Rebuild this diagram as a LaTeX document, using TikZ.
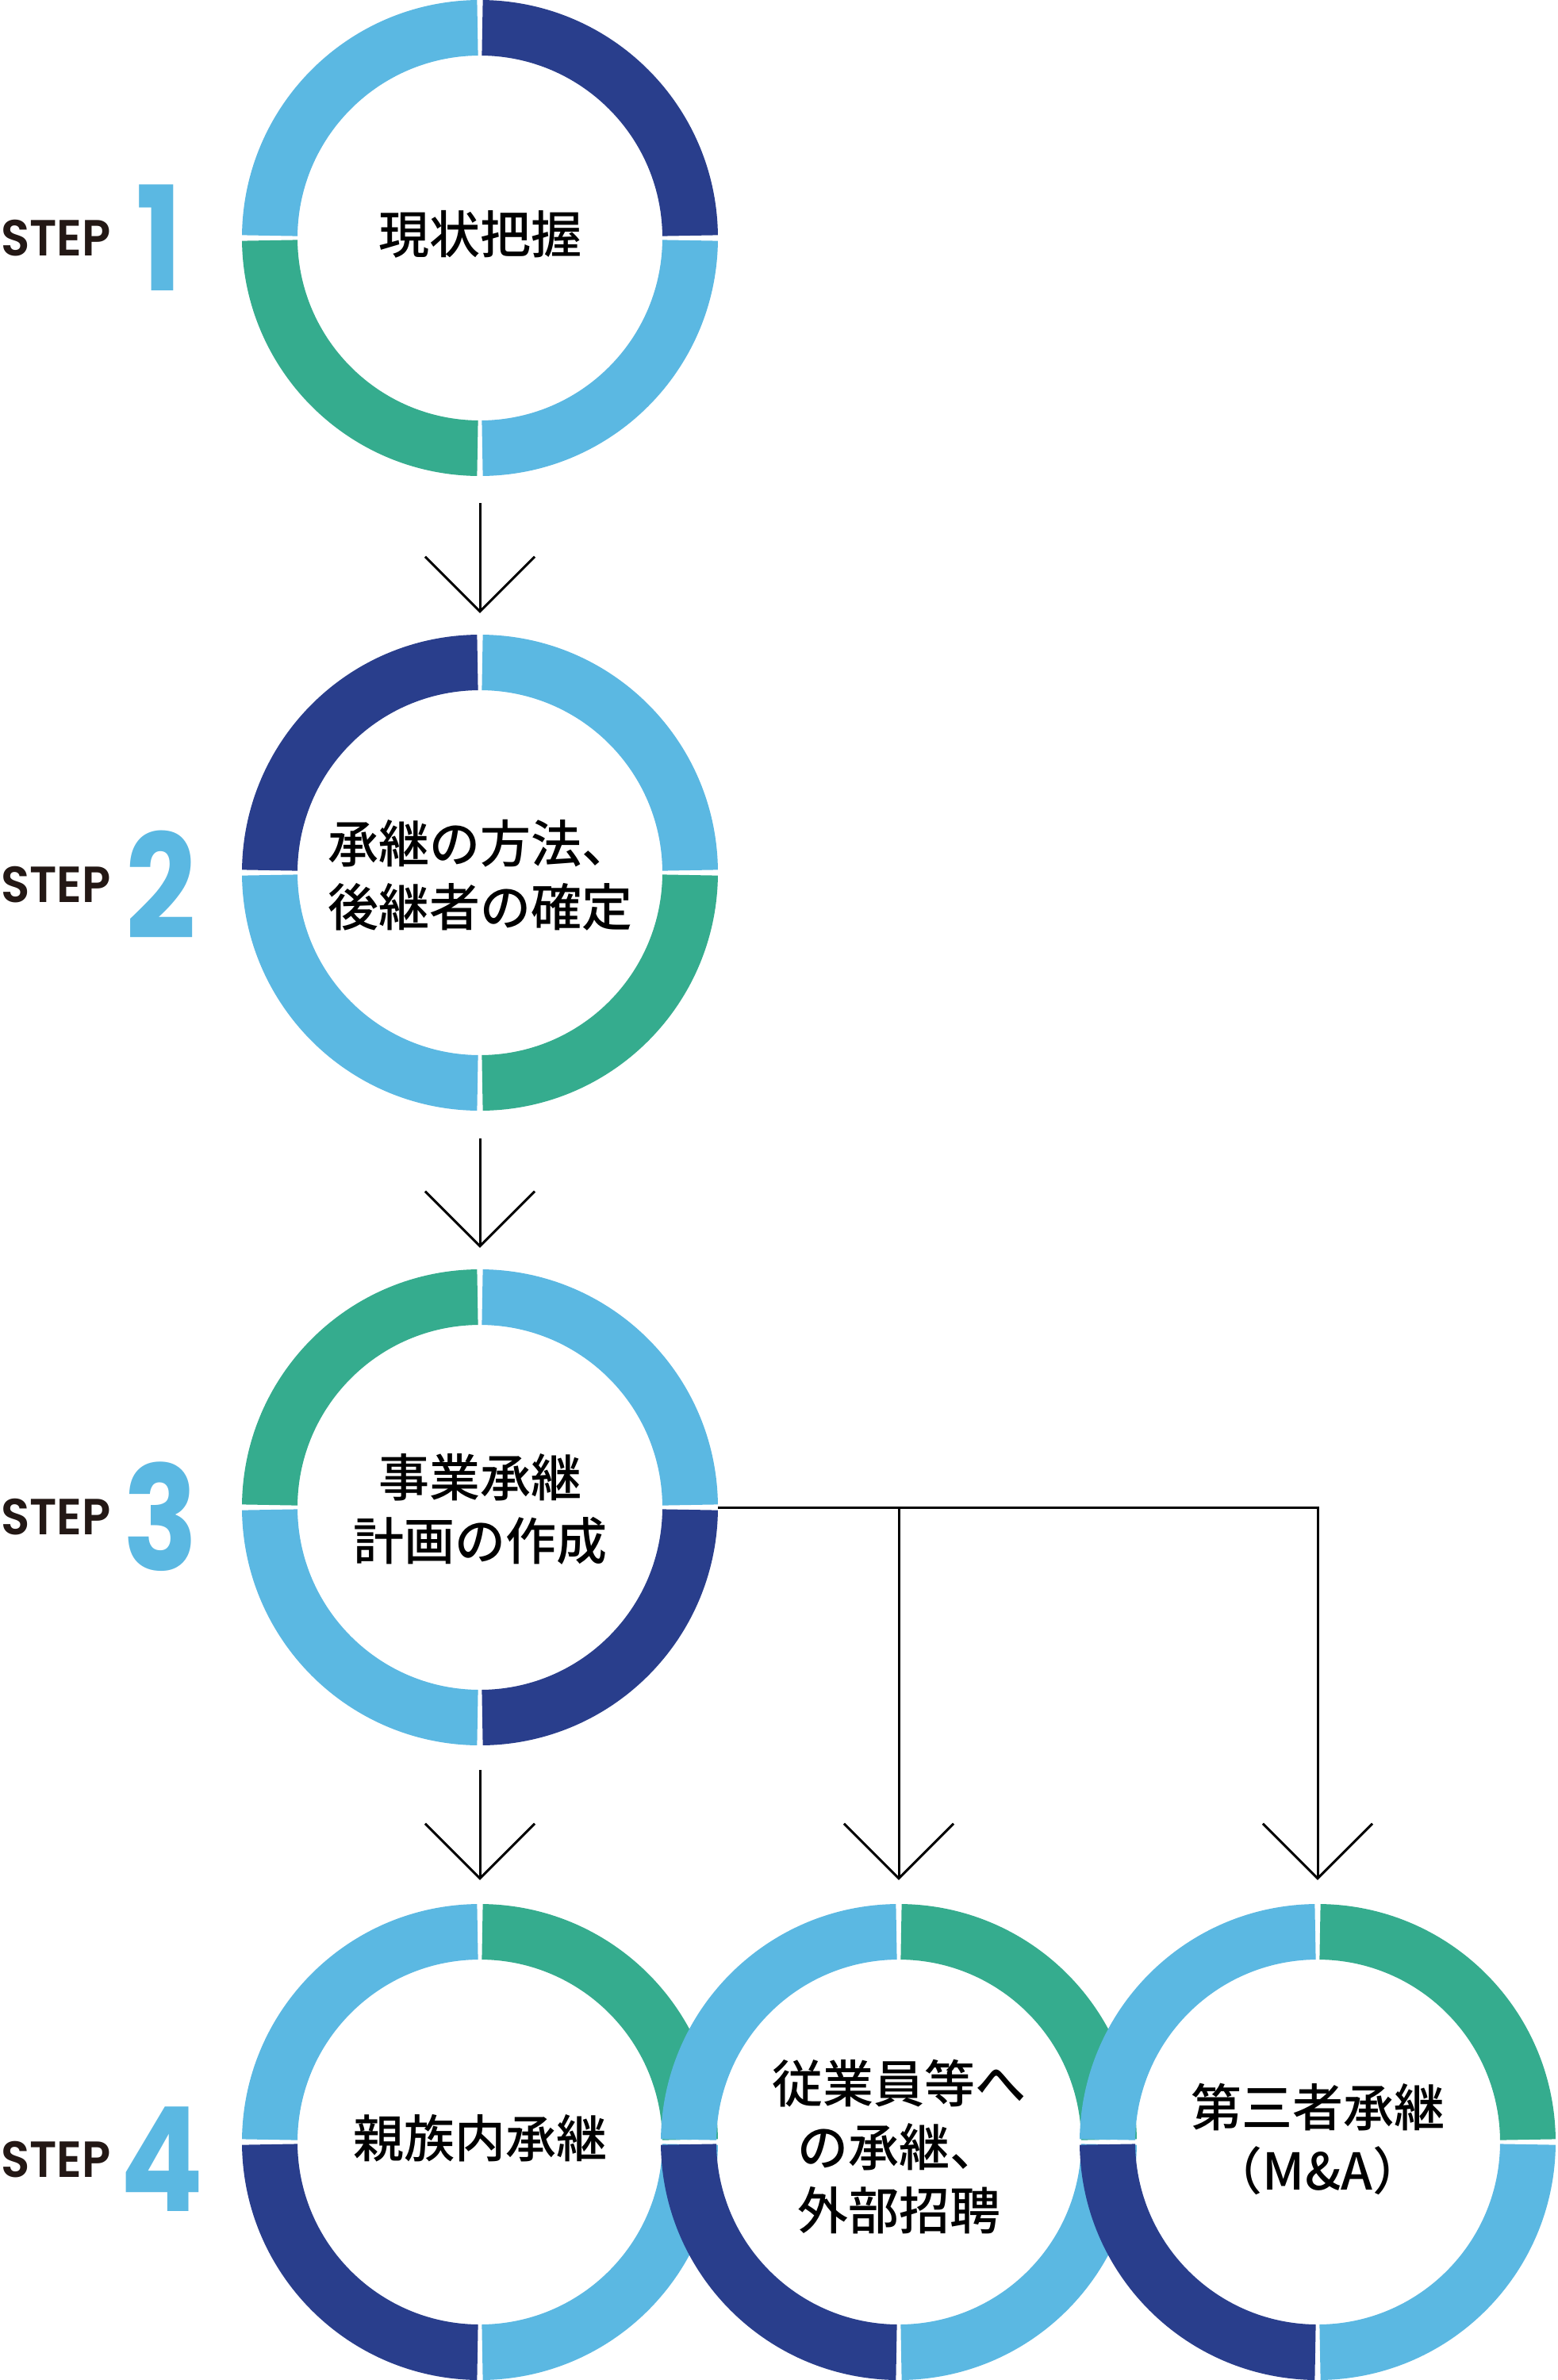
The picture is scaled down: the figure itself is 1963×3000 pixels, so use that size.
\documentclass[tikz,border=0pt]{standalone}
\usepackage{fontspec}
\newfontfamily\cjk{Noto Sans CJK JP Medium}
\newfontfamily\stepfont{Poppins SemiBold}
\newfontfamily\numfont{Poppins}
\usetikzlibrary{arrows.meta}
\definecolor{lb}{HTML}{5BB8E2}
\definecolor{db}{HTML}{293E8C}
\definecolor{gr}{HTML}{35AC8E}
\definecolor{stepk}{HTML}{231815}
\tikzset{
  ringnode/.style={circle, minimum size=600pt, inner sep=0pt},
  ringtext/.style={inner sep=0pt, align=center,
    font=\cjk\fontsize{64}{80}\selectfont},
  steplabel/.style={anchor=west, inner sep=0pt, text=stepk,
    font=\stepfont\fontsize{64}{64}\selectfont},
  stepnum/.style={inner sep=0pt, text=lb,
    font=\numfont\bfseries\fontsize{183}{183}\selectfont},
  arr/.style={line width=3pt, -{Straight Barb[length=69pt, width=138pt]}},
  seg/.style={line width=70pt}
}
\newcommand\drawring[5]{%
  \draw[seg,#2] (#1.center) ++(180.65:265) arc[start angle=180.65,end angle=269.35,radius=265];
  \draw[seg,#3] (#1.center) ++(270.65:265) arc[start angle=270.65,end angle=359.35,radius=265];
  \draw[seg,#4] (#1.center) ++(0.65:265) arc[start angle=0.65,end angle=89.35,radius=265];
  \draw[seg,#5] (#1.center) ++(90.65:265) arc[start angle=90.65,end angle=179.35,radius=265];
}
\begin{document}
\begin{tikzpicture}[x=1pt,y=-1pt]
\fill[white] (0,0) rectangle (1963,3000);
\useasboundingbox (0,0) rectangle (1963,3000);
% circle nodes
\node[ringnode] (c1) at (605,300) {};
\node[ringnode] (c2) at (605,1100) {};
\node[ringnode] (c3) at (605,1900) {};
\node[ringnode] (c4a) at (605,2700) {};
\node[ringnode] (c4b) at (1133,2700) {};
\node[ringnode] (c4c) at (1661,2700) {};
% texts
\node[ringtext] (t1) at ([yshift=5pt]c1.center) {現状把握};
\node[ringtext] (t2) at ([yshift=-3pt]c2.center) {承継の方法、\\後継者の確定};
\node[ringtext] (t3) at ([yshift=-2pt]c3.center) {事業承継\\計画の作成};
\node[ringtext] (t4a) at ([yshift=5pt]c4a.center) {親族内承継};
\node[ringtext] (t4b) at ([yshift=-6pt]c4b.center) {従業員等へ\\の承継、\\外部招聘};
\node[ringtext] (t4c) at ([yshift=4pt]c4c.center) {第三者承継\\（M\&A）};
% rings: TL, TR, BR, BL
\drawring{c1}{lb}{db}{lb}{gr}
\drawring{c2}{db}{lb}{gr}{lb}
\drawring{c3}{gr}{lb}{db}{lb}
\drawring{c4a}{lb}{gr}{lb}{db}
\drawring{c4b}{lb}{gr}{lb}{db}
\drawring{c4c}{lb}{gr}{lb}{db}
% step labels
\node[steplabel] (s1) at (1,300) {\scalebox{0.93}[1]{STEP}};
\node[stepnum] (n1) at (201,300) {\scalebox{0.85}[1]{1}};
\node[steplabel] (s2) at (1,1115) {\scalebox{0.93}[1]{STEP}};
\node[stepnum] (n2) at (203,1115) {\scalebox{0.85}[1]{2}};
\node[steplabel] (s3) at (1,1912) {\scalebox{0.93}[1]{STEP}};
\node[stepnum] (n3) at (203,1912) {\scalebox{0.85}[1]{3}};
\node[steplabel] (s4) at (1,2722) {\scalebox{0.93}[1]{STEP}};
\node[stepnum] (n4) at (204,2722) {\scalebox{0.85}[1]{4}};
% connectors
\draw[arr] ([yshift=-34pt]c1.south) -- ([yshift=27pt]c2.north);
\draw[arr] ([yshift=-35pt]c2.south) -- ([yshift=27pt]c3.north);
\draw[arr] ([yshift=-31pt]c3.south) -- ([yshift=30pt]c4a.north);
\draw[arr] (c3.east) -| ([yshift=30pt]c4b.north);
\draw[arr] (c3.east) -| ([yshift=30pt]c4c.north);
\end{tikzpicture}
\end{document}
